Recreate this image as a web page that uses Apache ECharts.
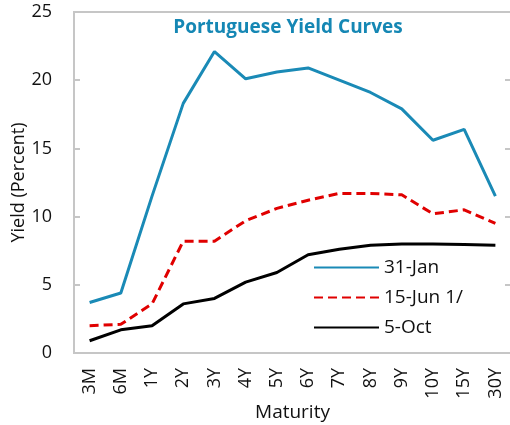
<!DOCTYPE html>
<html>
<head>
<meta charset="utf-8">
<script src="https://cdn.jsdelivr.net/npm/echarts@6/dist/echarts.min.js"></script>
<style>
  html, body { margin: 0; padding: 0; background: #fff; }
  #main { width: 510px; height: 425px; }
</style>
</head>
<body>
<div id="main"></div>
<script>
var maturities = ['3M', '6M', '1Y', '2Y', '3Y', '4Y', '5Y', '6Y', '7Y', '8Y', '9Y', '10Y', '15Y', '30Y'];
var jan31 = [3.7, 4.4, 11.5, 18.3, 22.1, 20.1, 20.6, 20.9, 20.0, 19.1, 17.9, 15.6, 16.4, 11.5];
var jun15 = [2.0, 2.1, 3.6, 8.2, 8.2, 9.7, 10.6, 11.2, 11.7, 11.7, 11.6, 10.2, 10.5, 9.5];
var oct5 = [0.9, 1.7, 2.0, 3.6, 4.0, 5.2, 5.9, 7.2, 7.6, 7.9, 8.0, 8.0, 7.95, 7.9];

var font = 'Open Sans';
var gray = '#c6c6c6';

var chart = echarts.init(document.getElementById('main'));
var options = {
    animation: false,
    textStyle: { fontFamily: font },
    title: {
        text: 'Portuguese Yield Curves',
        left: 283,
        top: 13,
        textAlign: 'center',
        textStyle: { color: '#1587b4', fontSize: 19, fontWeight: 'bold', fontFamily: font }
    },
    grid: {
        left: 74, right: -1, top: 12, bottom: 72,
        outerBoundsMode: 'none',
        containLabel: false,
        show: true, borderColor: gray, borderWidth: 2
    },
    legend: {
        orient: 'vertical',
        left: 308,
        top: 253,
        itemWidth: 65,
        itemHeight: 12,
        itemGap: 11,
        itemStyle: { opacity: 0 },
        textStyle: { fontSize: 19, color: '#111', fontFamily: font },
        data: ['31-Jan', '15-Jun 1/', '5-Oct']
    },
    xAxis: {
        type: 'category',
        data: maturities,
        boundaryGap: true,
        name: 'Maturity',
        nameLocation: 'middle',
        nameGap: 50,
        nameMoveOverlap: false,
        nameTextStyle: { fontSize: 19, color: '#111', verticalAlign: 'top' },
        axisLine: { lineStyle: { color: gray, width: 2 } },
        axisTick: { inside: true, length: 6, lineStyle: { color: gray, width: 2 } },
        axisLabel: { rotate: 90, fontSize: 18, color: '#111', margin: 15 }
    },
    yAxis: [{
        type: 'value',
        min: 0, max: 25, interval: 5,
        name: 'Yield (Percent)',
        nameLocation: 'middle',
        nameGap: 46,
        nameMoveOverlap: false,
        nameTextStyle: { fontSize: 18, color: '#111' },
        splitLine: { show: false },
        axisLine: { show: true, lineStyle: { color: gray, width: 2 } },
        axisTick: { show: true, inside: true, length: 6, lineStyle: { color: gray, width: 2 } },
        axisLabel: { fontSize: 18, color: '#111', margin: 22 }
    }, {
        type: 'value',
        min: 0, max: 25, interval: 5,
        position: 'right',
        splitLine: { show: false },
        axisLine: { show: false },
        axisTick: { show: true, inside: true, length: 6, lineStyle: { color: gray, width: 2 } },
        axisLabel: { show: false }
    }],
    series: [{
        name: '31-Jan',
        type: 'line',
        data: jan31,
        symbol: 'none',
        lineStyle: { color: '#1a8ab6', width: 3 },
        itemStyle: { color: '#1a8ab6' }
    }, {
        name: '15-Jun 1/',
        type: 'line',
        data: jun15,
        symbol: 'none',
        lineStyle: { color: '#e00000', width: 3, type: [9, 5] },
        itemStyle: { color: '#e00000' }
    }, {
        name: '5-Oct',
        type: 'line',
        data: oct5,
        symbol: 'none',
        lineStyle: { color: '#000', width: 3 },
        itemStyle: { color: '#000' }
    }]
};
chart.setOption(options);
</script>
</body>
</html>
